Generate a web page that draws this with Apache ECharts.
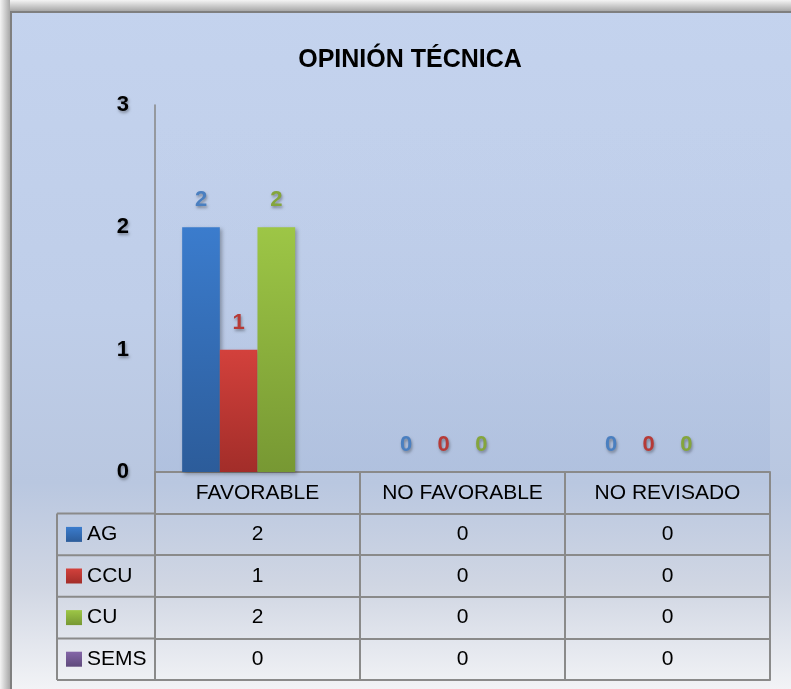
<!DOCTYPE html>
<html>
<head>
<meta charset="utf-8">
<script src="https://cdn.jsdelivr.net/npm/echarts@6/dist/echarts.min.js"></script>
<style>
  html, body { margin: 0; padding: 0; background: #fff; }
  #chart { width: 791px; height: 689px; }
</style>
</head>
<body>
<div id="chart"></div>
<script>
// data
const categories = ['FAVORABLE', 'NO FAVORABLE', 'NO REVISADO'];
const seriesNames = ['AG', 'CCU', 'CU', 'SEMS'];
const agValues = [2, 0, 0];
const ccuValues = [1, 0, 0];
const cuValues = [2, 0, 0];
const semsValues = [0, 0, 0];
const yTicks = [0, 1, 2, 3];

// layout
const FONT = '"Liberation Sans", Arial, sans-serif';
const GRID_LEFT = 155, GRID_RIGHT = 770, AXIS_Y = 472, GRID_TOP = 105;
const ROW_H = 41.6;
const TABLE_LEFT = 57;
const LINE_COLOR = '#8a8a8a';
const TABLE_FONT = 21;

const rows = [agValues, ccuValues, cuValues, semsValues];

function grad(top, bottom) {
  return new echarts.graphic.LinearGradient(0, 0, 0, 1, [
    { offset: 0, color: top },
    { offset: 1, color: bottom }
  ]);
}

const barStyles = [
  { fill: grad('#3b7ccd', '#2c5c9a'), label: '#4a7fc0' },
  { fill: grad('#d3413c', '#a22d29'), label: '#b63a37' },
  { fill: grad('#9dc646', '#779833'), label: '#84a53c' },
  { fill: grad('#8466a8', '#5f4a7c'), label: '#7a5f9c' }
];

const chart = echarts.init(document.getElementById('chart'));

const textShadow = {
  textShadowColor: 'rgba(0,0,0,0.35)',
  textShadowBlur: 3,
  textShadowOffsetX: 1,
  textShadowOffsetY: 2
};

// x axes: header row plus one row per series, then the closing line
const xAxes = [];
for (let i = 0; i <= rows.length + 1; i++) {
  const last = i === rows.length + 1;
  xAxes.push({
    type: 'category',
    data: categories,
    position: 'bottom',
    offset: i * ROW_H,
    axisLine: { show: true, onZero: false, lineStyle: { color: LINE_COLOR, width: 2 } },
    axisTick: { show: !last, length: ROW_H, interval: 0, lineStyle: { color: LINE_COLOR, width: 2 } },
    axisLabel: {
      show: !last,
      interval: 0,
      margin: ROW_H / 2,
      verticalAlign: 'middle',
      fontFamily: FONT,
      fontSize: TABLE_FONT,
      color: '#000',
      formatter: i === 0 ? null : (v, idx) => String(rows[i - 1][idx])
    },
    splitLine: { show: false }
  });
}

// borders of the legend column
const legendLines = [];
for (let k = 1; k <= rows.length + 1; k++) {
  const y = AXIS_Y + k * ROW_H;
  legendLines.push({
    type: 'line',
    shape: { x1: TABLE_LEFT, y1: y, x2: GRID_LEFT, y2: y },
    style: { stroke: LINE_COLOR, lineWidth: 2 }
  });
}
legendLines.push({
  type: 'line',
  shape: { x1: TABLE_LEFT, y1: AXIS_Y + ROW_H, x2: TABLE_LEFT, y2: AXIS_Y + (rows.length + 1) * ROW_H },
  style: { stroke: LINE_COLOR, lineWidth: 2 }
});

chart.setOption({
  backgroundColor: new echarts.graphic.LinearGradient(0, 0, 0, 1, [
    { offset: 0, color: '#c4d3ee' },
    { offset: 0.45, color: '#bfcee9' },
    { offset: 0.7, color: '#b9c7e0' },
    { offset: 0.85, color: '#d0d6e3' },
    { offset: 1, color: '#f2f3f6' }
  ]),
  title: {
    text: 'OPINIÓN TÉCNICA',
    left: 405,
    textAlign: 'center',
    top: 43,
    textStyle: { fontFamily: FONT, fontSize: 25, fontWeight: 'bold', color: '#000' }
  },
  legend: {
    data: seriesNames,
    orient: 'vertical',
    left: 66,
    top: AXIS_Y + ROW_H * 1.5 - 12,
    padding: 0,
    itemWidth: 16,
    itemHeight: 15,
    itemGap: ROW_H - 24,
    icon: 'rect',
    selectedMode: false,
    textStyle: { fontFamily: FONT, fontSize: TABLE_FONT, lineHeight: 24, color: '#000' }
  },
  grid: {
    left: GRID_LEFT,
    right: 791 - GRID_RIGHT,
    top: GRID_TOP,
    bottom: 689 - AXIS_Y,
    show: true,
    borderWidth: 0,
    backgroundColor: new echarts.graphic.LinearGradient(0, 0, 0, 1, [
      { offset: 0, color: 'rgba(190,205,235,0)' },
      { offset: 1, color: 'rgba(165,185,220,0.45)' }
    ])
  },
  xAxis: xAxes,
  yAxis: {
    type: 'value',
    min: yTicks[0],
    max: yTicks[yTicks.length - 1],
    interval: 1,
    axisLine: { show: true, lineStyle: { color: '#868686', width: 1.5 } },
    axisTick: { show: false },
    splitLine: { show: false },
    axisLabel: Object.assign({
      margin: 26,
      fontFamily: FONT,
      fontSize: 22,
      fontWeight: 'bold',
      color: '#000'
    }, textShadow)
  },
  series: seriesNames.map((name, i) => ({
    name: name,
    type: 'bar',
    data: rows[i],
    barGap: '0%',
    barCategoryGap: '26.5%',
    itemStyle: {
      color: barStyles[i].fill,
      shadowColor: 'rgba(0,0,0,0.3)',
      shadowBlur: 4,
      shadowOffsetX: 2,
      shadowOffsetY: 2
    },
    label: Object.assign({
      show: name !== 'SEMS',
      position: 'top',
      distance: 16,
      fontFamily: FONT,
      fontSize: 22,
      fontWeight: 'bold',
      color: barStyles[i].label
    }, textShadow)
  })),
  graphic: legendLines.concat([
    {
      type: 'rect',
      shape: { x: 0, y: 0, width: 791, height: 11 },
      style: { fill: grad('#f4f4f4', '#a8a8a8') }
    },
    {
      type: 'rect',
      shape: { x: 0, y: 0, width: 10, height: 689 },
      style: { fill: new echarts.graphic.LinearGradient(0, 0, 1, 0, [
        { offset: 0, color: '#f4f4f4' },
        { offset: 1, color: '#a8a8a8' }
      ]) }
    },
    {
      type: 'line',
      shape: { x1: 10, y1: 12, x2: 791, y2: 12 },
      style: { stroke: '#7f7f7f', lineWidth: 2 }
    },
    {
      type: 'line',
      shape: { x1: 11, y1: 11, x2: 11, y2: 689 },
      style: { stroke: '#7f7f7f', lineWidth: 2 }
    }
  ])
});
</script>
</body>
</html>
